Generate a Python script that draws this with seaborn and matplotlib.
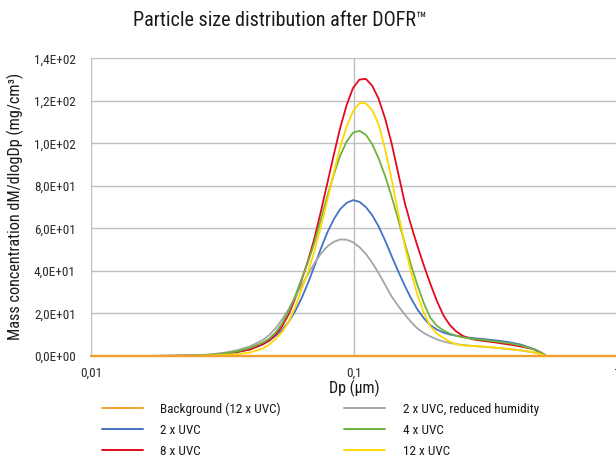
import numpy as np
import pandas as pd
import matplotlib
matplotlib.use("Agg")
import matplotlib.pyplot as plt
from matplotlib.ticker import FixedLocator, FuncFormatter, NullLocator
import seaborn as sns

# particle diameter (um), read along the log axis
dp = [0.01, 0.0163, 0.0204, 0.0256, 0.0286, 0.032, 0.0359, 0.0402, 0.045,
      0.0476, 0.0503, 0.0533, 0.0564, 0.0597, 0.0631, 0.0668, 0.0706, 0.0747,
      0.0791, 0.0837, 0.0885, 0.0937, 0.0991, 0.1049, 0.111, 0.1173, 0.124,
      0.1313, 0.139, 0.1473, 0.156, 0.1648, 0.174, 0.1842, 0.195, 0.2067,
      0.219, 0.2316, 0.245, 0.2591, 0.274, 0.29, 0.307,
      0.343, 0.384, 0.430, 0.482, 0.516, 0.539, 1.0]

background = [0.0] * len(dp)
uvc2_dry = [0, 0.05, 0.15, 0.4, 0.8, 1.5, 2.7, 4.5, 7.5,
            9.9, 13, 17.2, 22, 27.4, 33, 38.4, 43.5, 48, 51.5, 53.7, 54.8, 54.7,
            53.5, 51.2, 48, 43.8, 39, 33.5, 28, 23.5, 19.5, 16.0, 13, 10.8, 9.2,
            7.8, 6.8, 6.1, 5.6, 5.2, 4.9, 4.6, 4.4,
            3.9, 3.3, 2.6, 1.7, 0.8, 0, 0]
uvc2 = [0, 0.03, 0.1, 0.2, 0.4, 0.9, 1.7, 3.2, 5.5,
        7.2, 9.5, 12.3, 16, 21.0, 27, 34.2, 42, 50.3, 58, 64.2, 69, 72.0, 73.3,
        72.5, 70, 66.2, 61, 54.3, 47, 39.8, 33, 27.1, 22, 17.8, 14.5, 12.4, 11,
        10.1, 9.5, 9.0, 8.6, 8.3, 8.0,
        7.4, 6.6, 5.4, 3.3, 1.5, 0, 0]
uvc4 = [0, 0.03, 0.1, 0.3, 0.6, 1.2, 2.2, 3.8, 6.3,
        8.2, 11, 15.4, 21, 28.1, 36, 44.1, 53, 63.9, 75, 85.2, 94, 100.8, 105,
        105.9, 104, 99.6, 93, 84.7, 75, 64.1, 53, 42.8, 33.5, 24.9, 18, 14.2, 12,
        10.5, 9.5, 8.8, 8.3, 7.9, 7.6,
        6.9, 6.1, 5.0, 3.2, 1.4, 0, 0]
uvc8 = [0, 0.03, 0.1, 0.3, 0.6, 1.2, 2.0, 3.0, 5.5,
        7.3, 10, 14.0, 19.5, 26.9, 35.5, 44.6, 55, 67.6, 81, 94.4, 107, 117.9,
        126, 130, 130.3, 127.1, 121, 111.7, 100, 85.9, 72, 61.4, 52, 42.7, 34,
        25.8, 19, 14.5, 11.5, 9.5, 8.3, 7.6, 7.2,
        6.4, 5.5, 4.5, 3.2, 1.5, 0, 0]
uvc12 = [0, 0.02, 0.05, 0.1, 0.3, 0.5, 0.9, 1.6, 3.5,
         5.4, 8, 11.3, 16, 22.9, 31, 39.4, 49, 60.6, 73, 85.9, 98, 107.8, 115,
         119, 118.8, 115.6, 109, 97.3, 83, 67.3, 52, 39.5, 29, 20.4, 14, 10.5,
         8.5, 6.7, 5.5, 5.0, 4.8, 4.6, 4.5,
         4.0, 3.4, 2.7, 1.8, 0.8, 0, 0]

# legend order (column-wise for a 2-column legend)
names = ["Background (12 x UVC)", "2 x UVC", "8 x UVC",
         "2 x UVC, reduced humidity", "4 x UVC", "12 x UVC"]
series = [background, uvc2, uvc8, uvc2_dry, uvc4, uvc12]
colors = ["#F0A030", "#4472C4", "#E30A1E", "#A6A6A6", "#6DB33F", "#FFD800"]

frames = [pd.DataFrame({"Dp": dp, "value": vals, "series": name})
          for name, vals in zip(names, series)]
df = pd.concat(frames, ignore_index=True)

sns.set_style("white")
plt.rcParams["font.family"] = ["Roboto Condensed", "Archivo Narrow", "PT Sans Narrow",
                               "DejaVu Sans"]
txt = "#1a1a1a"

fig = plt.figure(figsize=(6.16, 4.63), dpi=100)
ax = fig.add_axes([91 / 616, 1 - 356 / 463, 526 / 616, (356 - 58.3) / 463])

# background drawn last so the zero line shows orange
draw_order = names[1:] + names[:1]
for name in draw_order:
    sub = df[df["series"] == name]
    is_bg = name == names[0]
    sns.lineplot(data=sub, x="Dp", y="value", ax=ax, color=colors[names.index(name)],
                 lw=1.7 if is_bg else 1.3, legend=False, clip_on=False,
                 zorder=5 if is_bg else 3)

ax.set_xscale("log")
ax.set_xlim(0.01, 1)
ax.set_ylim(0, 140)
ax.xaxis.set_major_locator(FixedLocator([0.01, 0.1, 1]))
ax.xaxis.set_minor_locator(NullLocator())
ax.yaxis.set_major_locator(FixedLocator(np.arange(0, 141, 20)))
ax.xaxis.set_major_formatter(FuncFormatter(lambda v, p: f"{v:g}".replace(".", ",")))
ax.yaxis.set_major_formatter(FuncFormatter(lambda v, p: f"{v:.1E}".replace(".", ",")))
ax.tick_params(length=0, labelsize=9.5, colors="#2a2a2a")
ax.tick_params(axis="y", pad=11)
ax.tick_params(axis="x", pad=8)
ax.grid(True, color="#BFBFBF", lw=1.0)
for s in ["top", "right", "left"]:
    ax.spines[s].set_visible(False)
ax.spines["bottom"].set_color("#BFBFBF")

ax.set_xlabel("Dp (µm)", fontsize=11.5, color=txt, labelpad=0)
ax.set_ylabel("")
fig.text(15 / 616, 1 - 206 / 463, "Mass concentration dM/dlogDp (mg/cm³)", rotation=90,
         ha="center", va="center", fontsize=11.7, color=txt)
fig.text(280 / 616, 1 - 20 / 463, "Particle size distribution after DOFR™",
         ha="center", va="center", fontsize=14.5, color=txt)

handles = [plt.Line2D([], [], color=c, lw=1.4) for c in colors]
fig.legend(handles, names, ncol=2, loc="upper left", bbox_to_anchor=(95 / 616, 1 - 396 / 463),
           frameon=False, fontsize=9.5, borderpad=0, handlelength=3.1, handletextpad=1.35,
           columnspacing=4.8, labelspacing=0.6, labelcolor=txt)

fig.savefig("out.png", dpi=100)
